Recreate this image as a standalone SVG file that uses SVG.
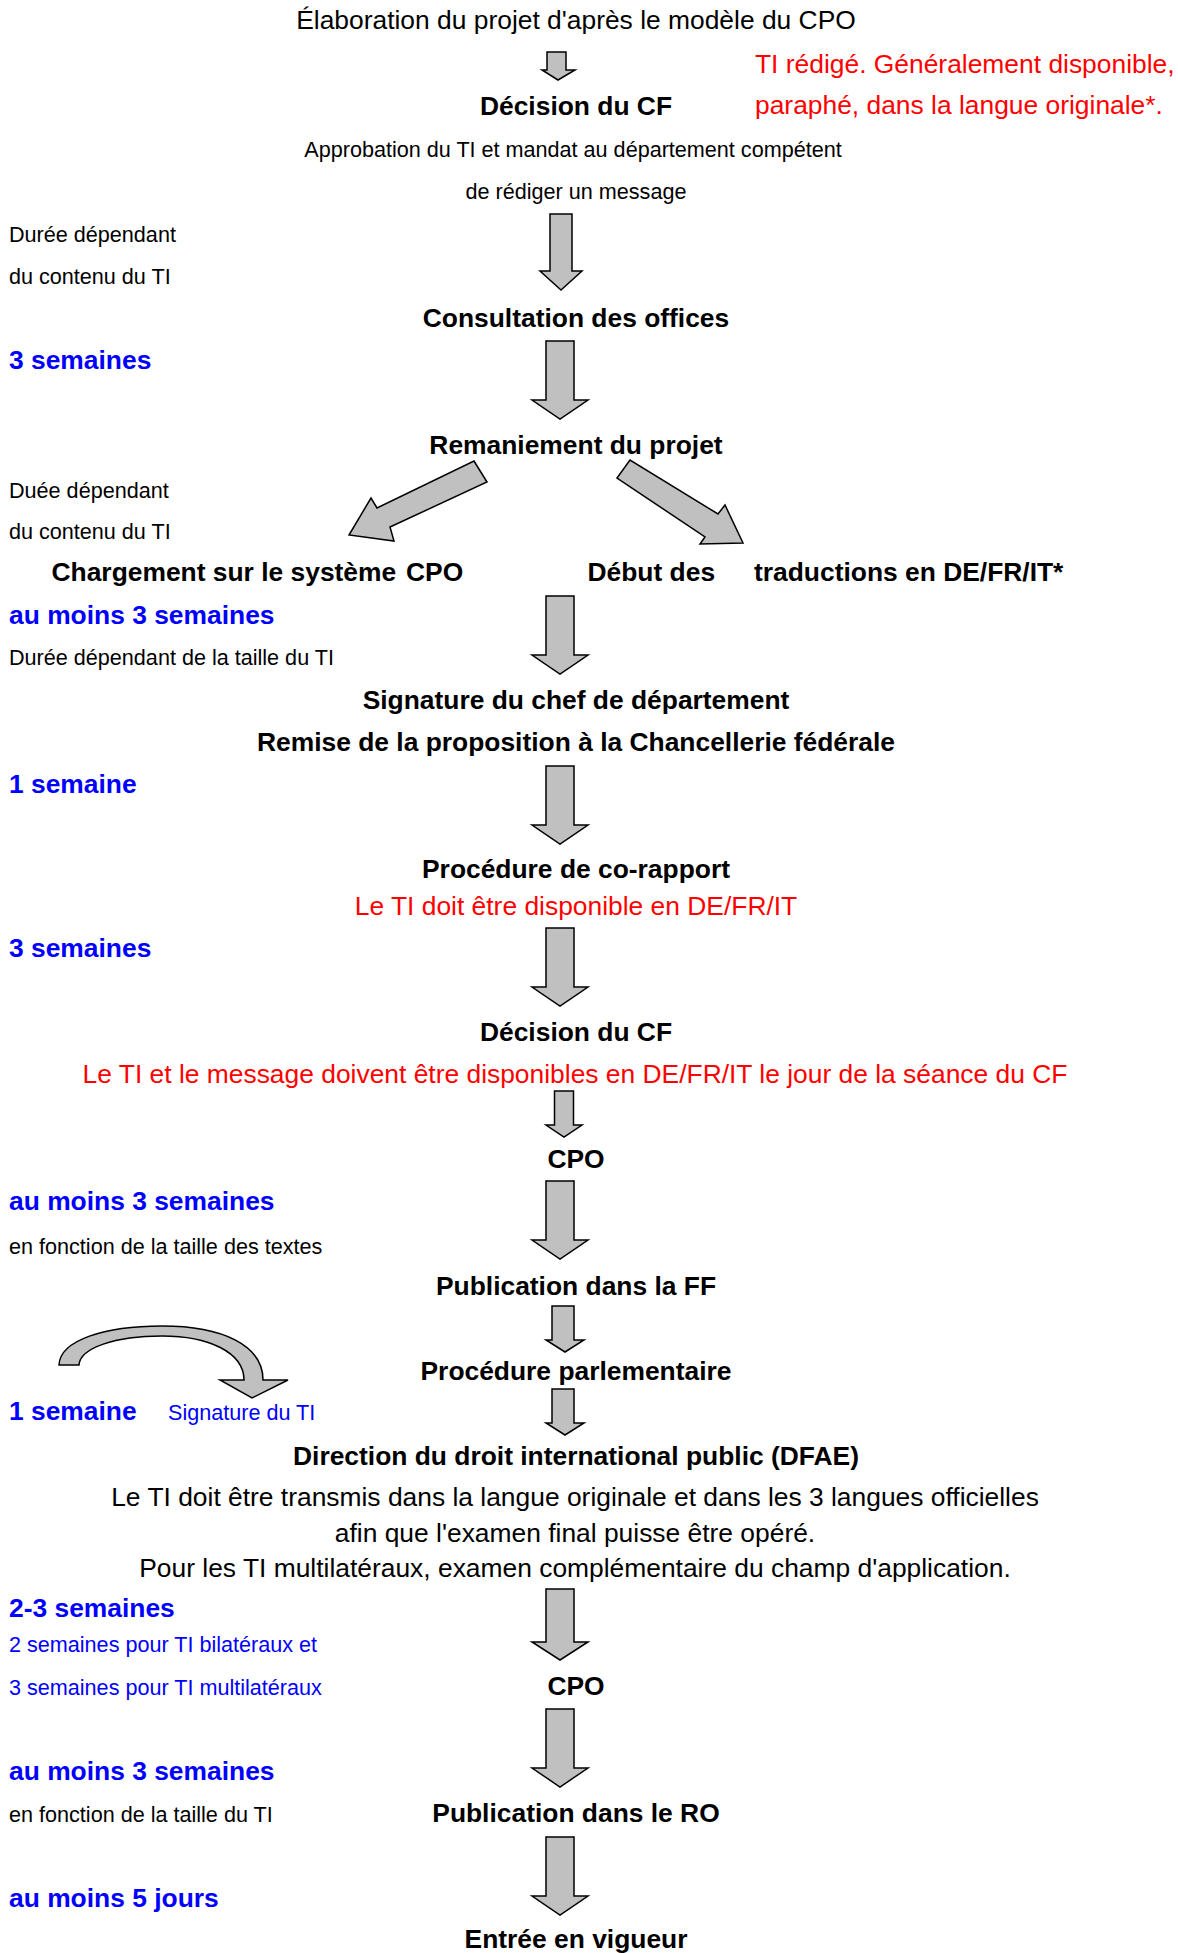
<svg xmlns="http://www.w3.org/2000/svg" width="1178" height="1953" viewBox="0 0 1178 1953">
<style>
text{font-family:"Liberation Sans",Arial,sans-serif}
.n{font-size:26.4px;font-weight:bold;text-anchor:middle;fill:#000}
.t{font-size:26.4px;text-anchor:middle;fill:#000}
.s{font-size:21.6px;fill:#000}
.sc{font-size:21.6px;fill:#000;text-anchor:middle}
.b{font-size:26.4px;font-weight:bold;fill:#0000ff}
.sb{font-size:21.6px;fill:#0000ff}
.r{font-size:26.4px;fill:#ff0000}
.rc{font-size:26.4px;fill:#ff0000;text-anchor:middle}
.arr{fill:#c0c0c0;stroke:#000;stroke-width:1.5;stroke-linejoin:miter}
</style>
<defs>
<path id="big" d="M -14 0 H 14 V 59 H 28 L 0 78 L -28 59 H -14 Z"/>
</defs>
<rect width="1178" height="1953" fill="#fff"/>

<g id="connectors">
<path class="arr" d="M 547 52 H 566 V 70 H 575 L 558 80 L 542 70 H 547 Z"/>
<path class="arr" d="M 550 214 H 572 V 271 H 582 L 561 290 L 540 271 H 550 Z"/>
<use href="#big" class="arr" x="560" y="341"/>
<path class="arr" d="M 474 461 L 487 482 L 390 527 L 394 541 L 349 535 L 371 498 L 377 508 Z"/>
<path class="arr" d="M 630 460 L 617 478 L 705 537 L 700 544 L 743 543 L 725 505 L 718 514 Z"/>
<use href="#big" class="arr" x="560" y="596"/>
<use href="#big" class="arr" x="560" y="766"/>
<use href="#big" class="arr" x="560" y="928"/>
<path class="arr" d="M 554.5 1091 H 573.5 V 1125 H 582 L 564 1137 L 546 1125 H 554.5 Z"/>
<use href="#big" class="arr" x="560" y="1181"/>
<path class="arr" d="M 552 1306 H 574 V 1340 H 584 L 565 1352 L 546 1340 H 552 Z"/>
<path class="arr" d="M 552 1389 H 574 V 1423 H 584 L 565 1435 L 546 1423 H 552 Z"/>
<path class="arr" d="M 59 1365 C 60 1340 105 1326 162 1326 C 222 1326 263 1345 263 1380 L 288 1380 L 252 1398 L 220 1380 L 244 1380 C 244 1352 208 1336 162 1336 C 115 1336 80 1348 79 1365 Z"/>
<path class="arr" d="M 546 1589 H 574 V 1642 H 588 L 560 1660 L 532 1642 H 546 Z"/>
<use href="#big" class="arr" x="560" y="1709"/>
<use href="#big" class="arr" x="560" y="1837"/>
</g>

<g id="n1"><text class="t" x="576" y="29">Élaboration du projet d'après le modèle du CPO</text></g>
<g id="n2"><text class="n" x="576" y="115">Décision du CF</text></g>
<g id="note1"><text class="r" x="755" y="73">TI rédigé. Généralement disponible,</text><text class="r" x="755" y="114">paraphé, dans la langue originale*.</text></g>
<g id="n2b"><text class="sc" x="573" y="157">Approbation du TI et mandat au département compétent</text><text class="sc" x="576" y="199">de rédiger un message</text></g>
<g id="d1"><text class="s" x="9" y="242">Durée dépendant</text><text class="s" x="9" y="284">du contenu du TI</text></g>
<g id="n3"><text class="n" x="576" y="327">Consultation des offices</text></g>
<g id="d2"><text class="b" x="9" y="369">3 semaines</text></g>
<g id="n4"><text class="n" x="576" y="454">Remaniement du projet</text></g>
<g id="d3"><text class="s" x="9" y="498">Duée dépendant</text><text class="s" x="9" y="539">du contenu du TI</text></g>
<g id="n5"><text class="n" x="51.5" y="581" style="text-anchor:start">Chargement sur le système<tspan x="406">CPO</tspan></text></g>
<g id="n6"><text class="n" x="587.5" y="581" style="text-anchor:start">Début des<tspan x="754">traductions en DE/FR/IT*</tspan></text></g>
<g id="d4"><text class="b" x="9" y="624">au moins 3 semaines</text><text class="s" x="9" y="665">Durée dépendant de la taille du TI</text></g>
<g id="n7"><text class="n" x="576" y="709">Signature du chef de département</text><text class="n" x="576" y="751">Remise de la proposition à la Chancellerie fédérale</text></g>
<g id="d5"><text class="b" x="9" y="793">1 semaine</text></g>
<g id="n8"><text class="n" x="576" y="878">Procédure de co-rapport</text><text class="rc" x="576" y="915">Le TI doit être disponible en DE/FR/IT</text></g>
<g id="d6"><text class="b" x="9" y="957">3 semaines</text></g>
<g id="n9"><text class="n" x="576" y="1041">Décision du CF</text><text class="rc" x="575" y="1083">Le TI et le message doivent être disponibles en DE/FR/IT le jour de la séance du CF</text></g>
<g id="n10"><text class="n" x="576" y="1168">CPO</text></g>
<g id="d7"><text class="b" x="9" y="1210">au moins 3 semaines</text><text class="s" x="9" y="1254">en fonction de la taille des textes</text></g>
<g id="n11"><text class="n" x="576" y="1295">Publication dans la FF</text></g>
<g id="n12"><text class="n" x="576" y="1380">Procédure parlementaire</text></g>
<g id="d8"><text class="b" x="9" y="1420">1 semaine</text><text class="sb" x="168" y="1420">Signature du TI</text></g>
<g id="n13"><text class="n" x="576" y="1465">Direction du droit international public (DFAE)</text>
<text class="t" x="575" y="1506">Le TI doit être transmis dans la langue originale et dans les 3 langues officielles</text>
<text class="t" x="575" y="1542">afin que l'examen final puisse être opéré.</text>
<text class="t" x="575" y="1577">Pour les TI multilatéraux, examen complémentaire du champ d'application.</text></g>
<g id="d9"><text class="b" x="9" y="1617">2-3 semaines</text><text class="sb" x="9" y="1652">2 semaines pour TI bilatéraux et</text><text class="sb" x="9" y="1695">3 semaines pour TI multilatéraux</text></g>
<g id="n14"><text class="n" x="576" y="1695">CPO</text></g>
<g id="d10"><text class="b" x="9" y="1780">au moins 3 semaines</text><text class="s" x="9" y="1822">en fonction de la taille du TI</text></g>
<g id="n15"><text class="n" x="576" y="1822">Publication dans le RO</text></g>
<g id="d11"><text class="b" x="9" y="1907">au moins 5 jours</text></g>
<g id="n16"><text class="n" x="576" y="1948">Entrée en vigueur</text></g>
</svg>
